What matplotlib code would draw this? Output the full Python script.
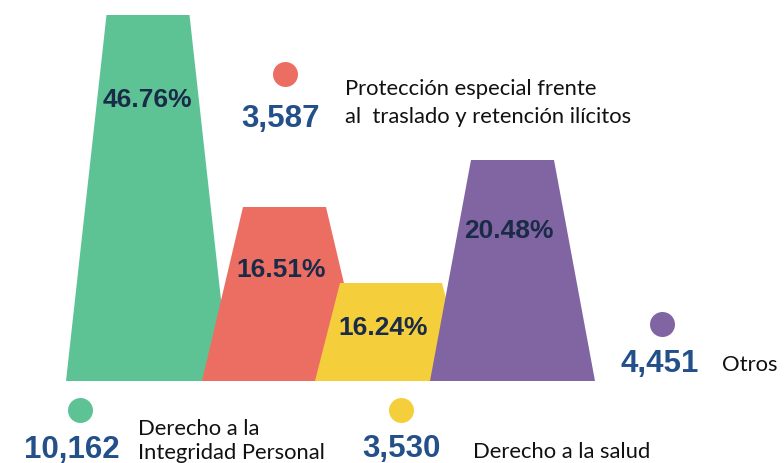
import matplotlib.pyplot as plt

# values
categories = [['Derecho a la', 'Integridad Personal'],
              ['Protección especial frente', 'al  traslado y retención ilícitos'],
              ['Derecho a la salud'],
              ['Otros']]
counts = ['10,162', '3,587', '3,530', '4,451']
percents = [46.76, 16.51, 16.24, 20.48]
peak_heights = [366, 174, 98, 221]  # shape heights as drawn (not proportional)
colors = ['#5DC395', '#EC6E63', '#F5CE3B', '#8165A3']

# layout (pixel-like data coords, baseline at y=0)
centers = [148, 284.5, 391, 512.5]
base_half = [82, 82.5, 76, 82.5]
top_half = [41.5, 41.5, 51, 41.5]
pct_y = [275, 105, 47, 144]
pct_x = [147.5, 281, 383.5, 509]
dot_xy = [(80.5, -29), (285.5, 307.5), (401.5, -28.5), (662.5, 57.5)]
num_xy = [(120, -76), (320, 255), (441, -75), (699, 10)]
lab_x = [138, 345, 473, 722]
lab_y = [[-53, -77], [287, 259], [-76], [11]]

fig = plt.figure(figsize=(7.84, 4.64), dpi=100)
ax = fig.add_axes([0, 0, 1, 1])
ax.set_xlim(0, 784)
ax.set_ylim(-82, 382)
ax.axis('off')

for i in range(4):
    c = centers[i]
    xs = [c - base_half[i], c - top_half[i], c + top_half[i], c + base_half[i]]
    ys = [0, peak_heights[i], peak_heights[i], 0]
    ax.fill(xs, ys, color=colors[i], zorder=i + 1, linewidth=0)
    ax.text(pct_x[i], pct_y[i], f'{percents[i]:.2f}%', ha='center', va='baseline',
            fontsize=19, fontweight='bold', family='Liberation Sans',
            color='#1A2B48', zorder=10)
    ax.scatter([dot_xy[i][0]], [dot_xy[i][1]], s=324, color=colors[i],
               linewidths=0, zorder=10)
    ax.text(num_xy[i][0], num_xy[i][1], counts[i], ha='right', va='baseline',
            fontsize=22.5, fontweight='bold', family='Liberation Sans',
            color='#24508A', zorder=10)
    for line, y in zip(categories[i], lab_y[i]):
        ax.text(lab_x[i], y, line, ha='left', va='baseline', fontsize=15.8,
                family='Lato', color='#111111', zorder=10)

fig.savefig('out.png', dpi=100)
